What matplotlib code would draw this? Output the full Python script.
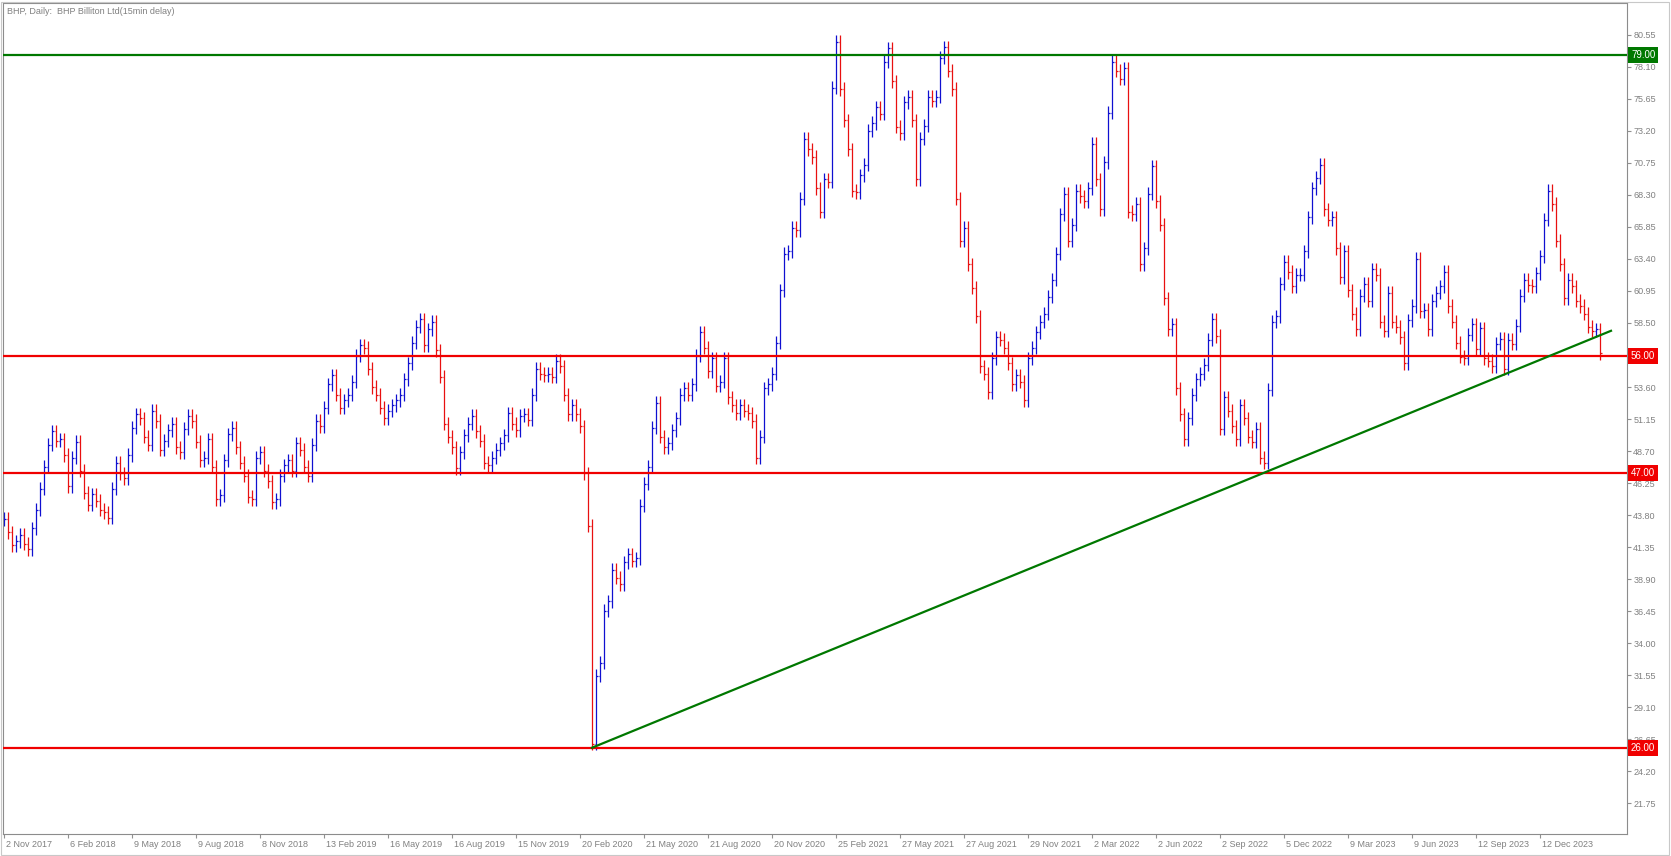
import matplotlib
matplotlib.use("Agg")
import matplotlib.pyplot as plt
import matplotlib.transforms as mtransforms
from matplotlib.collections import LineCollection
from matplotlib.patches import Rectangle

plt.rcParams['font.family'] = ['Liberation Sans', 'DejaVu Sans']

# closing prices, one every 4 trading bars (first at bar 4)
closes = [
    43.5, 42.5, 41.5, 41.8, 42.3, 41.6, 41.2, 42.8, 44.2, 45.8,
    47.5, 49.2, 50.2, 49.5, 49.6, 48.4, 46.0, 48.2, 49.4, 47.2,
    45.5, 44.6, 45.4, 44.9, 44.2, 44.0, 43.6, 45.8, 47.8, 47.0,
    46.6, 48.4, 50.5, 51.5, 51.2, 49.8, 49.2, 51.8, 51.0, 48.8,
    49.5, 50.3, 50.8, 49.0, 48.6, 50.4, 51.4, 51.0, 49.4, 48.0,
    48.2, 49.6, 47.5, 45.0, 45.3, 48.0, 50.0, 50.5, 49.0, 47.8,
    46.8, 45.2, 45.0, 48.2, 48.6, 47.2, 46.4, 44.8, 45.0, 46.8,
    47.6, 48.0, 47.2, 49.3, 48.8, 47.5, 46.8, 49.2, 51.0, 50.6,
    52.0, 53.8, 54.5, 53.0, 52.0, 52.6, 53.0, 54.0, 56.0, 56.8,
    56.6, 55.0, 53.6, 53.0, 52.0, 51.2, 51.8, 52.2, 52.6, 53.0,
    54.2, 55.4, 57.0, 58.2, 58.8, 56.8, 58.0, 58.6, 56.4, 54.4,
    50.8, 49.8, 49.0, 47.4, 48.6, 49.9, 50.8, 51.4, 50.2, 49.5,
    47.8, 47.6, 48.2, 48.8, 49.3, 49.9, 51.6, 50.8, 50.3, 51.4,
    51.5, 51.1, 53.0, 55.0, 54.6, 54.5, 54.6, 54.4, 55.6, 55.2,
    53.0, 51.5, 52.2, 51.5, 50.6, 47.0, 43.0, 26.3, 31.5, 32.5,
    36.5, 37.2, 39.6, 39.0, 38.5, 40.2, 40.8, 40.3, 40.5, 44.5,
    46.2, 47.5, 50.5, 52.4, 49.8, 49.0, 49.3, 50.3, 51.2, 53.0,
    53.5, 53.0, 53.8, 56.0, 57.8, 56.6, 54.8, 55.8, 53.7, 54.0,
    55.8, 52.8, 52.2, 51.6, 52.2, 51.8, 51.6, 51.0, 48.2, 49.8,
    53.5, 53.8, 54.6, 57.0, 61.0, 63.8, 64.0, 65.8, 65.6, 68.0,
    72.6, 71.8, 71.2, 68.8, 67.0, 69.5, 69.3, 76.5, 80.0, 76.4,
    74.0, 71.8, 68.6, 68.5, 69.8, 70.6, 73.2, 73.8, 75.0, 74.5,
    78.5, 79.5, 77.0, 73.5, 73.0, 75.4, 75.8, 74.0, 69.5, 72.6,
    73.6, 75.8, 75.5, 75.8, 78.8, 79.6, 77.8, 76.4, 68.0, 64.8,
    65.8, 63.0, 61.2, 59.0, 55.2, 54.6, 53.2, 55.8, 57.4, 57.2,
    56.6, 55.4, 53.8, 54.5, 54.0, 52.6, 55.8, 56.6, 57.8, 58.6,
    59.2, 60.5, 61.8, 63.8, 66.8, 68.4, 64.8, 66.0, 68.6, 68.2,
    67.8, 68.8, 72.2, 69.5, 67.2, 70.8, 74.6, 78.5, 77.8, 77.2,
    78.0, 67.0, 66.8, 67.6, 63.0, 64.2, 68.4, 70.5, 67.8, 66.0,
    60.4, 58.0, 58.4, 53.5, 51.5, 49.6, 51.2, 53.0, 54.2, 54.6,
    55.3, 57.2, 58.8, 57.5, 50.4, 52.8, 51.8, 50.6, 49.6, 52.2,
    51.2, 49.8, 49.4, 50.4, 48.2, 47.8, 53.4, 58.6, 59.0, 61.5,
    63.2, 62.4, 61.3, 62.2, 62.2, 64.0, 66.6, 68.8, 69.6, 70.6,
    67.2, 66.4, 66.6, 64.2, 62.0, 64.0, 61.0, 59.2, 58.0, 60.6,
    61.5, 60.2, 62.6, 62.2, 58.6, 57.9, 60.8, 58.6, 58.2, 57.4,
    55.4, 58.7, 59.8, 63.4, 59.4, 59.5, 58.0, 60.2, 60.8, 61.3,
    62.4, 59.8, 58.6, 57.0, 55.9, 55.8, 57.6, 58.4, 56.5, 58.1,
    55.8, 55.6, 55.2, 56.9, 57.3, 55.0, 57.2, 56.9, 58.3, 60.6,
    61.8, 61.4, 61.3, 62.3, 63.6, 66.4, 68.6, 67.6, 64.8, 63.0,
    60.4, 61.8, 61.3, 60.2, 59.8, 59.2, 58.2, 57.9, 58.0, 56.2,
]
first_bar = 4
bar_step = 4

# support / resistance levels and the rising trend line
level_prices = [79.00, 56.00, 47.00, 26.00]
level_colors = ['#007800', '#f00000', '#f00000', '#f00000']
trend_x = [592, 1611]
trend_y = [26.0, 57.9]

date_labels = ['2 Nov 2017', '6 Feb 2018', '9 May 2018', '9 Aug 2018', '8 Nov 2018',
               '13 Feb 2019', '16 May 2019', '16 Aug 2019', '15 Nov 2019', '20 Feb 2020',
               '21 May 2020', '21 Aug 2020', '20 Nov 2020', '25 Feb 2021', '27 May 2021',
               '27 Aug 2021', '29 Nov 2021', '2 Mar 2022', '2 Jun 2022', '2 Sep 2022',
               '5 Dec 2022', '9 Mar 2023', '9 Jun 2023', '12 Sep 2023', '12 Dec 2023']
price_ticks = [21.75, 24.20, 26.65, 29.10, 31.55, 34.00, 36.45, 38.90, 41.35, 43.80,
               46.25, 48.70, 51.15, 53.60, 56.05, 58.50, 60.95, 63.40, 65.85, 68.30,
               70.75, 73.20, 75.65, 78.10, 80.55]

W, H = 1671, 856
fig = plt.figure(figsize=(W / 100, H / 100), dpi=100)
ax = fig.add_axes([3 / W, (H - 834) / H, (1627 - 3) / W, (834 - 3) / H])

# OHLC bars: open = previous close
wick = 0.5
segs, cols = [], []
for i, c in enumerate(closes):
    x = first_bar + bar_step * i
    o = closes[i - 1] if i > 0 else c
    hi = max(o, c) + wick
    lo = min(o, c) - wick
    col = '#1010d0' if c >= o else '#e81010'
    segs += [[(x, lo), (x, hi)], [(x - 1.5, o), (x, o)], [(x, c), (x + 1.5, c)]]
    cols += [col] * 3
ax.add_collection(LineCollection(segs, colors=cols, linewidths=0.9, zorder=2))

for p, col in zip(level_prices, level_colors):
    ax.axhline(p, color=col, lw=1.6, zorder=3)
ax.plot(trend_x, trend_y, color='#007800', lw=1.6, zorder=3)

ax.set_xlim(3, 1627)
ax.set_ylim(19.40, 82.98)

# price axis on the right
ax.yaxis.tick_right()
ax.set_yticks(price_ticks)
ax.set_yticklabels([f'{v:.2f}' for v in price_ticks])
ax.tick_params(axis='y', length=3, width=0.8, color='#909090', labelcolor='#808080',
               labelsize=6.5, pad=1.5)

# time axis
ax.set_xticks([first_bar + 64 * k for k in range(len(date_labels))])
ax.set_xticklabels(date_labels, ha='left')
ax.tick_params(axis='x', length=3, width=0.8, color='#909090', labelcolor='#808080',
               labelsize=6.5, pad=1.5)
shift = mtransforms.ScaledTranslation(1.5 / 72, 0, fig.dpi_scale_trans)
for lbl in ax.get_xticklabels():
    lbl.set_transform(lbl.get_transform() + shift)

for sp in ax.spines.values():
    sp.set_color('#8c8c8c')
    sp.set_linewidth(0.8)

# level price tags on the axis
tag_trans = mtransforms.offset_copy(
    mtransforms.blended_transform_factory(ax.transAxes, ax.transData), fig=fig, x=4, units='dots')
for p, col in zip(level_prices, level_colors):
    ax.text(1.0, p, f'{p:.2f}', transform=tag_trans, ha='left', va='center', fontsize=7,
            color='white', clip_on=False, zorder=6,
            bbox=dict(boxstyle='square,pad=0.3', fc=col, ec='none'))

fig.text(7 / W, 1 - 11 / H, 'BHP, Daily:  BHP Billiton Ltd(15min delay)', fontsize=6.5,
         color='#808080', ha='left', va='center')

fig.patches.append(Rectangle((1 / W, 1 / H), (W - 3) / W, (H - 3) / H, transform=fig.transFigure,
                             fill=False, ec='#c8c8c8', lw=0.8))

fig.savefig('out.png', dpi=100, facecolor='white')
